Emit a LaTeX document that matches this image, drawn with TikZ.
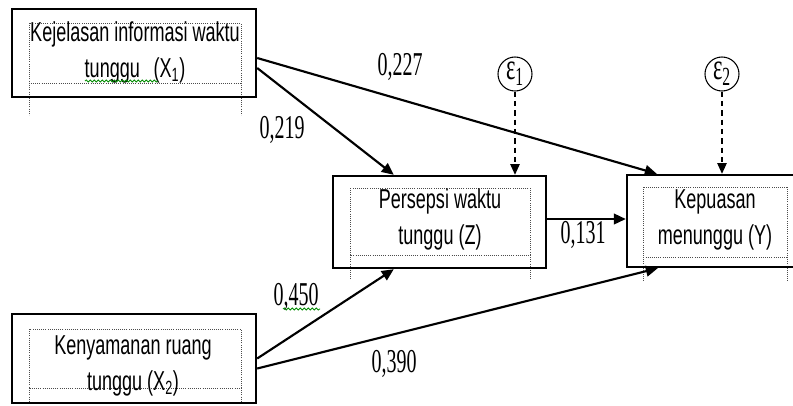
\documentclass[tikz,border=0pt]{standalone}
\usepackage{fontspec}
\setmainfont{Liberation Sans}
\newfontfamily\boxfont[FakeStretch=0.66]{Liberation Sans}
\newfontfamily\numfont[FakeStretch=0.6]{Liberation Serif}
\usetikzlibrary{arrows.meta,calc,decorations.pathmorphing}
\tikzset{
  box/.style={draw, line width=1.8pt, inner sep=0pt},
  txt/.style={font=\boxfont\fontsize{20.5}{27}\selectfont, align=center, inner sep=0pt},
  num/.style={font=\numfont\fontsize{25}{25}\selectfont, inner sep=0pt},
  eps/.style={draw, circle, line width=0.8pt, minimum size=25.5pt, inner sep=0pt, font=\numfont\fontsize{28}{28}\selectfont},
  arr/.style={line width=1.6pt, -{Triangle[length=9pt,width=8pt]}},
  dasharr/.style={line width=1pt, dash pattern=on 4pt off 3pt, -{Triangle[length=8pt,width=7pt]}},
  innerframe/.style={draw=gray!60!black, densely dotted, line width=0.6pt},
  squiggle/.style={draw=green!55!black, line width=0.6pt, decorate, decoration={snake, amplitude=0.8pt, segment length=3pt}}
}
\begin{document}
\begin{tikzpicture}[x=0.75pt,y=-0.75pt]
\useasboundingbox (0,0) rectangle (793,405);
\clip (0,0) rectangle (793,405);

% inner dotted frames
\path[innerframe] (29,23) rectangle (241,83) (29,83) -- (29,115) (241,83) -- (241,115);
\path[innerframe] (350,188) rectangle (530,255) (350,255) -- (350,280) (530,255) -- (530,280);
\path[innerframe] (643,187) rectangle (787,257) (643,257) -- (643,282) (787,257) -- (787,282);
\path[innerframe] (29,329) rectangle (241,388) (29,388) -- (29,403) (241,388) -- (241,403);

% boxes
\node[box, minimum width=183pt, minimum height=66pt] (x1) at (134,53) {};
\node[box, minimum width=159.75pt, minimum height=69pt] (z) at (439.5,222) {};
\node[box, minimum width=132pt, minimum height=69pt] (y) at (715,221) {};
\node[box, minimum width=183pt, minimum height=66.75pt] (x2) at (134,358.5) {};

% texts
\node[txt] (x1t) at (135,52) {Kejelasan informasi waktu\\tunggu\enspace(X\textsubscript{1})};
\node[txt] (zt) at (440,219.5) {Persepsi waktu\\tunggu (Z)};
\node[txt] (yt) at (715,220) {Kepuasan\\menunggu (Y)};
\node[txt] (x2t) at (133,366) {Kenyamanan ruang\\tunggu (X\textsubscript{2})};

% error terms
\node[eps] (e1) at (515,74) {ε\textsubscript{1}};
\node[eps] (e2) at (722,74) {ε\textsubscript{2}};
\draw[dasharr] (e1.south) -- (e1.south |- z.north);
\draw[dasharr] (e2.south) -- (e2.south |- y.north);

% paths
\draw[arr] ($(x1.east)+(0,5)$) -- ($(y.north west)+(31,0)$);
\draw[arr] ($(x1.east)+(0,15)$) -- ($(z.north west)+(62,0)$);
\draw[arr] ($(z.east)+(0,-3)$) -- ($(y.west)+(0,-2)$);
\draw[arr] (x2.east) -- ($(z.south west)+(62,0)$);
\draw[arr] ($(x2.east)+(0,10)$) -- ($(y.south west)+(32,0)$);

% coefficients
\node[num] (c227) at (400,67) {0,227};
\node[num] (c219) at (282,130) {0,219};
\node[num] (c131) at (583,235) {0,131};
\node[num] (c450) at (296,297) {0,450};
\node[num] (c390) at (394,364) {0,390};

% spell-check squiggles
\path[squiggle] (85,81) -- (158,81);
\path[squiggle] (283,309) -- (320,309);
\end{tikzpicture}
\end{document}
